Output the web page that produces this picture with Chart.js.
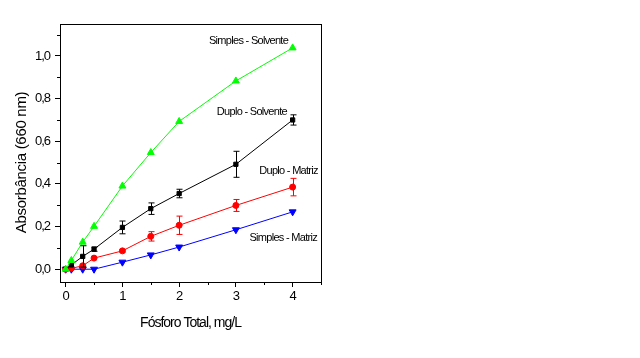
<!DOCTYPE html>
<html>
<head>
<meta charset="utf-8">
<script src="https://cdn.jsdelivr.net/npm/chart.js@4/dist/chart.umd.min.js"></script>
<style>
  html, body { margin: 0; padding: 0; background: #fff; }
</style>
</head>
<body>
<canvas id="graf-absorbancia" width="640" height="358"></canvas>
<script>
// Concentrações (mg/L de fósforo total)
const concentracoes = [0, 0.1, 0.3, 0.5, 1, 1.5, 2, 3, 4];

// Absorbâncias
const simplesSolvente = [0, 0.041, 0.127, 0.201, 0.39, 0.547, 0.693, 0.883, 1.038];
const duploSolvente = [0, 0.02, 0.06, 0.094, 0.196, 0.284, 0.355, 0.492, 0.70];
const duploSolventeErro = [0, 0, 0.05, 0.01, 0.03, 0.027, 0.02, 0.061, 0.024];
const duploMatriz = [0, 0.004, 0.016, 0.052, 0.086, 0.154, 0.206, 0.299, 0.385];
const duploMatrizErro = [0, 0, 0, 0, 0.006, 0.022, 0.043, 0.028, 0.041];
const simplesMatriz = [0, 0, 0, 0, 0.033, 0.067, 0.104, 0.185, 0.269];

// Marcas dos eixos
const ticksX = [0, 1, 2, 3, 4];
const ticksXMenores = [0.5, 1.5, 2.5, 3.5, 4.5];
const ticksY = [0, 0.2, 0.4, 0.6, 0.8, 1.0];
const ticksYMenores = [0.1, 0.3, 0.5, 0.7, 0.9, 1.1];

const tituloX = "Fósforo Total, mg/L";
const tituloY = "Absorbância (660 nm)";

const FONTE = "'Liberation Sans', Arial, sans-serif";

// Rótulos das curvas (ancorados em coordenadas dos dados, alinhados à direita)
const rotulos = [
  { texto: "Simples - Solvente", x: 3.92, y: 1.072 },
  { texto: "Duplo - Solvente", x: 3.90, y: 0.737 },
  { texto: "Duplo - Matriz", x: 4.445, y: 0.459 },
  { texto: "Simples - Matriz", x: 4.43, y: 0.148 }
];

const pontos = (valores) => concentracoes.map((c, i) => ({ x: c, y: valores[i] }));

// Plugin: moldura, marcas menores, barras de erro, títulos e rótulos
const extras = {
  id: "extras",
  beforeDraw(chart) {
    // texto um pouco mais "apertado", como no original
    chart.ctx.letterSpacing = "-1px";
  },
  afterDatasetsDraw(chart) {
    const { ctx, scales: { x, y } } = chart;
    ctx.save();
    ctx.lineWidth = 1;
    chart.data.datasets.forEach((ds) => {
      if (!ds.erro) return;
      ctx.strokeStyle = ds.borderColor;
      ds.erro.forEach((e, i) => {
        if (!e) return;
        const px = Math.round(x.getPixelForValue(concentracoes[i])) + 0.5;
        const y1 = y.getPixelForValue(ds.data[i].y + e);
        const y2 = y.getPixelForValue(ds.data[i].y - e);
        ctx.beginPath();
        ctx.moveTo(px, y1); ctx.lineTo(px, y2);
        ctx.moveTo(px - 3, y1); ctx.lineTo(px + 3, y1);
        ctx.moveTo(px - 3, y2); ctx.lineTo(px + 3, y2);
        ctx.stroke();
      });
    });
    ctx.restore();
  },
  afterDraw(chart) {
    const { ctx, chartArea: a, scales: { x, y } } = chart;
    ctx.save();
    ctx.strokeStyle = "#000";
    ctx.lineWidth = 1;
    ctx.strokeRect(Math.round(a.left) + 0.5, Math.round(a.top) + 0.5,
                   Math.round(a.right - a.left), Math.round(a.bottom - a.top));
    ctx.beginPath();
    ticksXMenores.forEach((v) => {
      const px = Math.round(x.getPixelForValue(v)) + 0.5;
      ctx.moveTo(px, a.bottom); ctx.lineTo(px, a.bottom + 3);
    });
    ticksYMenores.forEach((v) => {
      const py = Math.round(y.getPixelForValue(v)) + 0.5;
      ctx.moveTo(a.left, py); ctx.lineTo(a.left - 3, py);
    });
    ctx.stroke();

    ctx.fillStyle = "#000";
    ctx.textBaseline = "middle";

    // rótulos das curvas
    ctx.font = "11px " + FONTE;
    ctx.letterSpacing = "-0.7px";
    ctx.textAlign = "right";
    rotulos.forEach((r) => {
      ctx.fillText(r.texto, x.getPixelForValue(r.x), y.getPixelForValue(r.y));
    });

    // título do eixo x
    ctx.textAlign = "center";
    ctx.font = "14px " + FONTE;
    ctx.letterSpacing = "-1px";
    ctx.fillText(tituloX, (a.left + a.right) / 2, 323);

    // título do eixo y
    ctx.font = "15px " + FONTE;
    ctx.letterSpacing = "-0.3px";
    ctx.translate(22, (a.top + a.bottom) / 2 + 9.5);
    ctx.rotate(-Math.PI / 2);
    ctx.fillText(tituloY, 0, 0);
    ctx.restore();
  }
};

const serie = (label, valores, cor, estilo, extra) => Object.assign({
  label,
  data: pontos(valores),
  borderColor: cor,
  backgroundColor: cor,
  borderWidth: 1,
  pointStyle: estilo,
  pointRadius: 3,
  pointBorderWidth: 1,
  tension: 0
}, extra || {});

new Chart(document.getElementById("graf-absorbancia"), {
  type: "line",
  data: {
    datasets: [
      serie("Simples - Solvente", simplesSolvente, "#00ff00", "triangle", { pointRadius: 4 }),
      serie("Duplo - Solvente", duploSolvente, "#000000", "rect", { erro: duploSolventeErro }),
      serie("Duplo - Matriz", duploMatriz, "#ff0000", "circle", { erro: duploMatrizErro }),
      serie("Simples - Matriz", simplesMatriz, "#0000ff", "triangle", { pointRadius: 4, pointRotation: 180 })
    ]
  },
  options: {
    responsive: false,
    animation: false,
    layout: { padding: { top: 24, right: 319, left: 0, bottom: 0 } },
    plugins: { legend: { display: false }, tooltip: { enabled: false } },
    scales: {
      x: {
        type: "linear",
        min: -0.1,
        max: 4.5,
        afterFit(s) { s.height = 76; },
        afterBuildTicks(s) { s.ticks = ticksX.map((v) => ({ value: v })); },
        border: { display: false },
        grid: { drawOnChartArea: false, tickLength: 5, tickColor: "#000" },
        ticks: { color: "#000", padding: 2, maxRotation: 0, font: { family: FONTE, size: 13 },
                 callback: (v) => String(v) }
      },
      y: {
        type: "linear",
        min: -0.06,
        max: 1.15,
        afterFit(s) { s.width = 60; },
        afterBuildTicks(s) { s.ticks = ticksY.map((v) => ({ value: v })); },
        border: { display: false },
        grid: { drawOnChartArea: false, tickLength: 5, tickColor: "#000" },
        ticks: { color: "#000", padding: 5, font: { family: FONTE, size: 13 },
                 callback: (v) => v.toFixed(1).replace(".", ",") }
      }
    }
  },
  plugins: [extras]
});
</script>
</body>
</html>
